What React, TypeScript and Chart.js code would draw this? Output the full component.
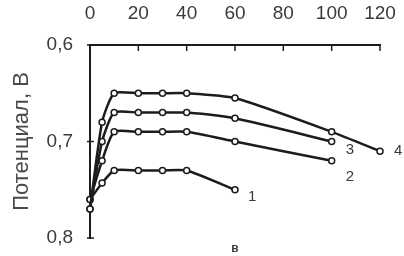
import React, { useEffect, useRef } from "react";
import { Chart, registerables } from "chart.js";

Chart.register(...registerables);

const xTicks = [0, 20, 40, 60, 80, 100, 120];
const yTickLabels = ["0,6", "0,7", "0,8"];
const yTicks = [0.6, 0.7, 0.8];

const time4 = [0, 5, 10, 20, 30, 40, 60, 100, 120];
const series4 = [0.77, 0.68, 0.65, 0.65, 0.65, 0.65, 0.655, 0.69, 0.71];
const time3 = [0, 5, 10, 20, 30, 40, 60, 100];
const series3 = [0.77, 0.70, 0.67, 0.67, 0.67, 0.67, 0.676, 0.70];
const time2 = [0, 5, 10, 20, 30, 40, 60, 100];
const series2 = [0.76, 0.72, 0.69, 0.69, 0.69, 0.69, 0.70, 0.72];
const time1 = [0, 5, 10, 20, 30, 40, 60];
const series1 = [0.76, 0.743, 0.73, 0.73, 0.73, 0.73, 0.75];

const seriesLabels = ["4", "3", "2", "1"];
const yTitle = "Потенциал, В";
const xTitle = "в";

const FONT = "'Liberation Sans Narrow', 'Liberation Sans', Arial, sans-serif";
const LINE = "#1c1c1c";
const TEXT = "#3a3a3a";

const labelOffsets: Record<string, [number, number]> = {
  "4": [14, 0],
  "3": [14, 8],
  "2": [14, 16],
  "1": [13, 7],
};

export default function App() {
  const ref = useRef<HTMLCanvasElement | null>(null);

  useEffect(() => {
    if (!ref.current) return;
    const mk = (xs: number[], ys: number[], label: string) => ({
      label,
      data: xs.map((x, i) => ({ x, y: ys[i] })),
      borderColor: LINE,
      borderWidth: 2.5,
      pointRadius: 3,
      pointBackgroundColor: "#ffffff",
      pointBorderColor: LINE,
      pointBorderWidth: 1.5,
      tension: 0.2,
      clip: false as const,
    });

    const tickPlugin = {
      id: "inwardTicks",
      afterDraw(chart: any) {
        const ctx = chart.ctx;
        const xs = chart.scales.x;
        const ys = chart.scales.y;
        const { top, left } = chart.chartArea;
        ctx.save();
        ctx.strokeStyle = LINE;
        ctx.lineWidth = 1.5;
        xTicks.forEach((t) => {
          const px = xs.getPixelForValue(t);
          ctx.beginPath();
          ctx.moveTo(px, top);
          ctx.lineTo(px, top + 6);
          ctx.stroke();
        });
        yTicks.forEach((t) => {
          const py = ys.getPixelForValue(t);
          ctx.beginPath();
          ctx.moveTo(left - 3, py);
          ctx.lineTo(left + 4, py);
          ctx.stroke();
        });
        ctx.restore();
      },
    };

    const labelPlugin = {
      id: "seriesLabels",
      afterDatasetsDraw(chart: any) {
        const ctx = chart.ctx;
        ctx.save();
        ctx.font = `15px ${FONT}`;
        ctx.fillStyle = TEXT;
        ctx.textAlign = "left";
        ctx.textBaseline = "middle";
        chart.data.datasets.forEach((ds: any, i: number) => {
          const meta = chart.getDatasetMeta(i);
          const pt = meta.data[meta.data.length - 1];
          const off = labelOffsets[ds.label] || [12, 0];
          ctx.fillText(ds.label, pt.x + off[0], pt.y + off[1]);
        });
        ctx.restore();
      },
    };

    const chart = new Chart(ref.current, {
      type: "line",
      data: {
        datasets: [
          mk(time4, series4, seriesLabels[0]),
          mk(time3, series3, seriesLabels[1]),
          mk(time2, series2, seriesLabels[2]),
          mk(time1, series1, seriesLabels[3]),
        ],
      },
      options: {
        animation: false,
        responsive: false,
        maintainAspectRatio: false,
        layout: { padding: { left: 0, right: 24, top: 0, bottom: 0 } },
        plugins: { legend: { display: false }, tooltip: { enabled: false } },
        scales: {
          x: {
            type: "linear",
            position: "top",
            min: 0,
            max: 120,
            afterBuildTicks: (s: any) => {
              s.ticks = xTicks.map((v) => ({ value: v }));
            },
            ticks: {
              font: { family: FONT, size: 19 },
              color: TEXT,
              padding: 20,
              maxRotation: 0,
              autoSkip: false,
            },
            grid: { display: true, drawOnChartArea: false, drawTicks: false },
            border: { display: true, color: LINE, width: 2 },
            afterFit: (s: any) => {
              s.height = 45;
              s.paddingLeft = 0;
              s.paddingRight = 0;
            },
          },
          x2: {
            type: "linear",
            position: "bottom",
            min: 0,
            max: 120,
            ticks: { display: false },
            grid: { display: false, drawTicks: false },
            border: { display: false },
            title: {
              display: true,
              text: xTitle,
              font: { family: "'Liberation Sans', Arial", size: 12, weight: "bold" },
              color: TEXT,
              padding: { top: 0, bottom: 0 },
            },
            afterFit: (s: any) => {
              s.height = 18;
              s.paddingLeft = 0;
              s.paddingRight = 0;
            },
          },
          y: {
            type: "linear",
            reverse: true,
            min: 0.6,
            max: 0.8,
            afterBuildTicks: (s: any) => {
              s.ticks = yTicks.map((v) => ({ value: v }));
            },
            ticks: {
              font: { family: FONT, size: 19 },
              color: TEXT,
              padding: 17,
              callback: (_v: any, i: number) => yTickLabels[i],
            },
            grid: { display: true, drawOnChartArea: false, drawTicks: false },
            border: { display: true, color: LINE, width: 2 },
            title: {
              display: true,
              text: yTitle,
              font: { family: "'Liberation Sans', Arial", size: 22 },
              color: "#4a4a4a",
              padding: { top: 9, bottom: 0 },
            },
            afterFit: (s: any) => {
              s.width = 90;
              s.paddingTop = 0;
              s.paddingBottom = 0;
            },
          },
        },
      },
      plugins: [tickPlugin, labelPlugin],
    } as any);
    return () => chart.destroy();
  }, []);

  return (
    <div style={{ position: "fixed", left: 0, top: 0, width: 404, height: 256, background: "#fff" }}>
      <canvas ref={ref} width={404} height={256} />
    </div>
  );
}
